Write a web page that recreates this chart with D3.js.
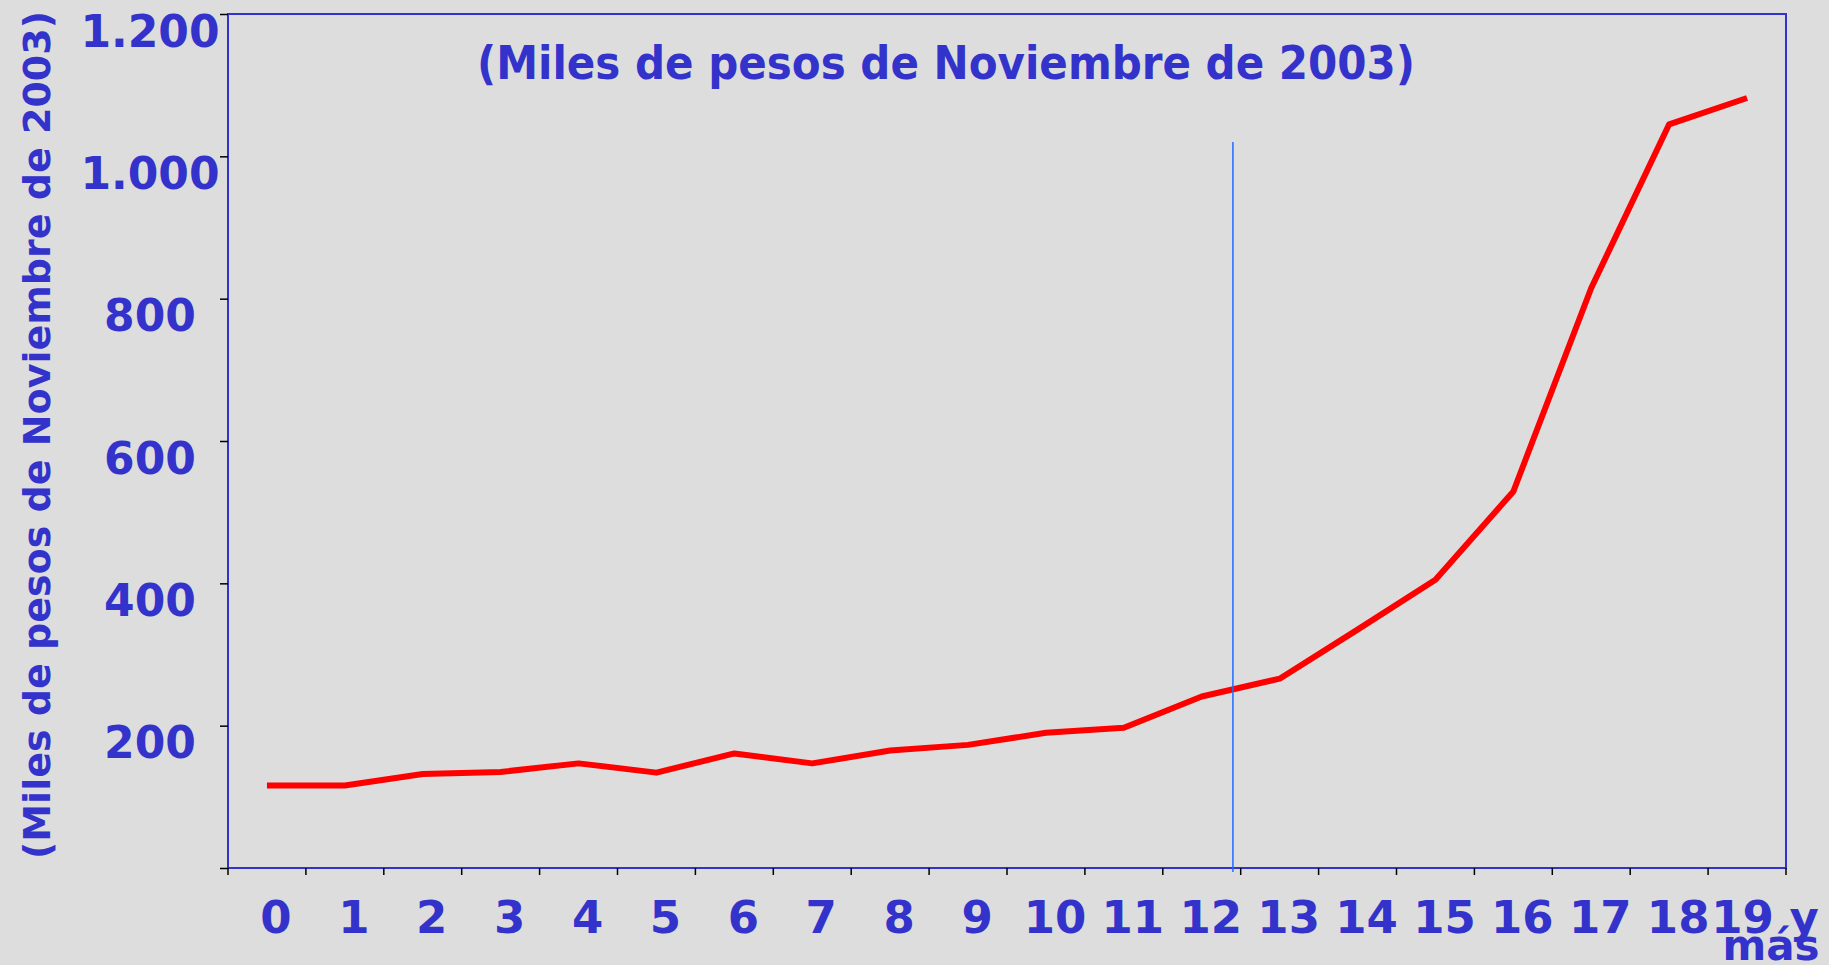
<!DOCTYPE html>
<html>
<head>
<meta charset="utf-8">
<script src="https://cdn.jsdelivr.net/npm/d3@7"></script>
<style>
  html, body { margin: 0; padding: 0; background: #dddddd; }
  svg { display: block; }
</style>
</head>
<body>
<div id="chart"></div>
<script>
// años de escolaridad vs ingreso (miles de pesos nov. 2003)
var categories = ["0", "1", "2", "3", "4", "5", "6", "7", "8", "9", "10",
    "11", "12", "13", "14", "15", "16", "17", "18", "19 y más"];
var ingresos = [116, 116, 132, 135, 147, 134, 161, 147, 165, 173, 190,
    197, 241, 266, 335, 405, 529, 815, 1045, 1082];
var yTicks = [0, 200, 400, 600, 800, 1000, 1200];
var markerPos = 12.4;     // linea vertical azul (en años)
var markerTop = 1020;
var titleText = "(Miles de pesos de Noviembre de 2003)";
var yTitleText = "(Miles de pesos de Noviembre de 2003)";

var width = 1829, height = 965;
var margin = {left: 228, right: 43, top: 14, bottom: 97};
var blue = "#3333cc";

var svg = d3.select("#chart").append("svg")
    .attr("width", width)
    .attr("height", height);

svg.append("rect")
    .attr("width", width)
    .attr("height", height)
    .attr("fill", "#dddddd");

var x = d3.scaleBand()
    .domain(categories)
    .range([margin.left, width - margin.right]);

// posicion continua por indice (centro de cada banda)
var xi = d3.scaleLinear()
    .domain([0, categories.length - 1])
    .range([x(categories[0]) + x.bandwidth() / 2,
            x(categories[categories.length - 1]) + x.bandwidth() / 2]);

var y = d3.scaleLinear()
    .domain([0, 1200])
    .range([height - margin.bottom, margin.top]);

var locale = d3.formatLocale({decimal: ",", thousands: ".", grouping: [3], currency: ["$", ""]});
var fmt = locale.format(",d");

// marco
svg.append("rect")
    .attr("x", x.range()[0])
    .attr("y", y(1200))
    .attr("width", x.range()[1] - x.range()[0])
    .attr("height", y(0) - y(1200))
    .attr("fill", "none")
    .attr("stroke", blue)
    .attr("stroke-width", 2);

// eje Y
var yAxis = svg.append("g")
    .attr("transform", "translate(" + margin.left + ",0)")
    .call(d3.axisLeft(y)
        .tickValues(yTicks)
        .tickSize(8)
        .tickFormat(function (d) { return d == 0 ? "" : fmt(d); }));
yAxis.select(".domain").remove();
yAxis.selectAll(".tick line")
    .attr("stroke", "#000")
    .attr("stroke-width", 1.5);
yAxis.selectAll(".tick text")
    .attr("x", -78)
    .attr("dy", "0.73em")
    .attr("text-anchor", "middle")
    .attr("fill", blue)
    .attr("font-family", "DejaVu Sans")
    .attr("font-weight", "bold")
    .attr("font-size", 44);

// eje X: marcas en los bordes de cada banda
var bounds = categories.map(function (c) { return x(c); }).concat([x.range()[1]]);
svg.append("g").selectAll("line")
    .data(bounds)
    .enter()
    .append("line")
    .attr("x1", function (d) { return d; })
    .attr("x2", function (d) { return d; })
    .attr("y1", y(0))
    .attr("y2", y(0) + 7)
    .attr("stroke", "#000")
    .attr("stroke-width", 1.5);

var xAxis = svg.append("g")
    .attr("transform", "translate(0," + y(0) + ")")
    .call(d3.axisBottom(x).tickSize(0));
xAxis.select(".domain").remove();
xAxis.selectAll(".tick text")
    .attr("y", 65)
    .attr("dy", 0)
    .attr("dx", 9)
    .attr("fill", blue)
    .attr("font-family", "DejaVu Sans")
    .attr("font-weight", "bold")
    .attr("font-size", 45)
    .each(function (d) {
        if (d.indexOf(" ") < 0) return;
        var t = d3.select(this).text(null).attr("dx", null);
        var words = d.split(" ");
        t.append("tspan").attr("x", 0).attr("dx", 18).text(words[0] + " " + words[1]);
        t.append("tspan").attr("x", 0).attr("dy", 27).attr("dx", 24)
            .attr("font-size", 42).text(words[2]);
    });

// linea de ingresos
var line = d3.line()
    .x(function (d, i) { return xi(i); })
    .y(function (d) { return y(d); });

svg.append("path")
    .datum(ingresos)
    .attr("d", line)
    .attr("fill", "none")
    .attr("stroke", "#ff0000")
    .attr("stroke-width", 6)
    .attr("stroke-linejoin", "round");

// linea vertical
svg.append("line")
    .attr("x1", xi(markerPos))
    .attr("x2", xi(markerPos))
    .attr("y1", y(markerTop))
    .attr("y2", y(0) + 4)
    .attr("stroke", "#1e6eff")
    .attr("stroke-width", 1.5);

// titulos
svg.append("text")
    .text(titleText)
    .attr("x", 477)
    .attr("y", 79)
    .attr("textLength", 938)
    .attr("lengthAdjust", "spacingAndGlyphs")
    .attr("fill", blue)
    .attr("font-family", "DejaVu Sans")
    .attr("font-weight", "bold")
    .attr("font-size", 46);

svg.append("text")
    .text(yTitleText)
    .attr("transform", "translate(50," + ((14 + 856) / 2) + ") rotate(-90)")
    .attr("text-anchor", "middle")
    .attr("fill", blue)
    .attr("font-family", "DejaVu Sans")
    .attr("font-weight", "bold")
    .attr("font-size", 38);
</script>
</body>
</html>
